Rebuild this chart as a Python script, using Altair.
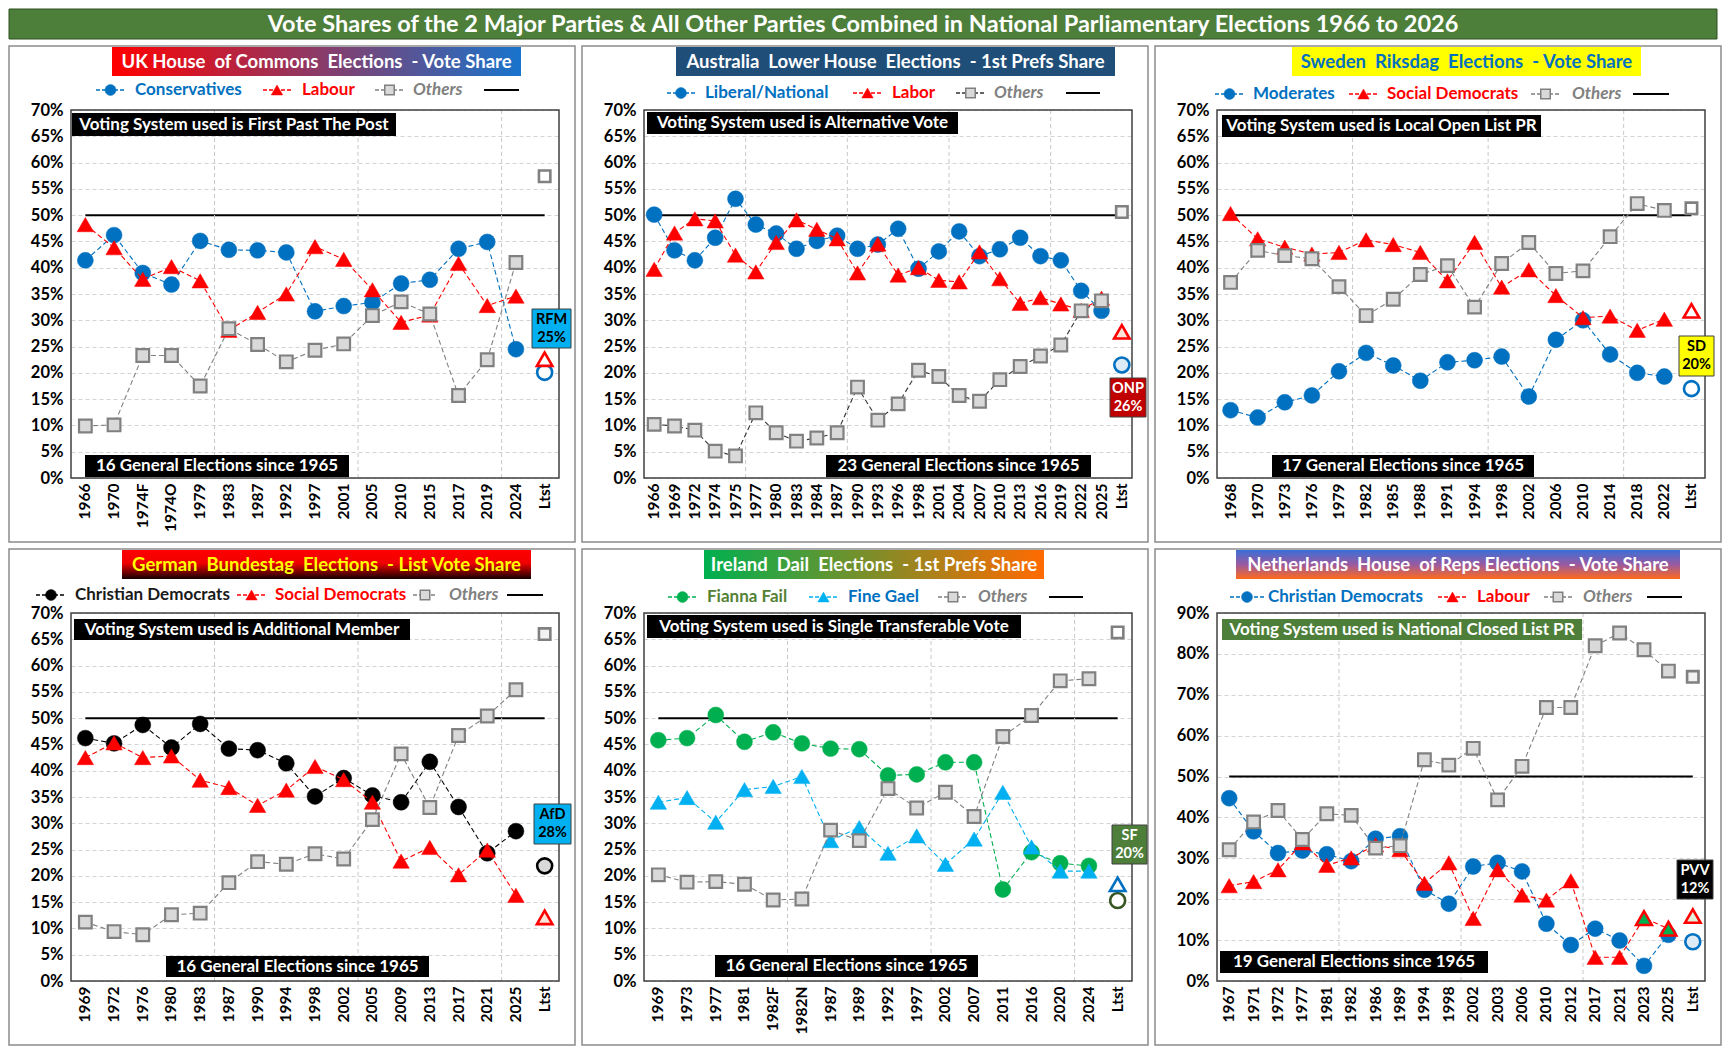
import altair as alt
import pandas as pd

FONT = "Lato"

# ---------------- data ----------------
uk_cats = ["1966", "1970", "1974F", "1974O", "1979", "1983", "1987", "1992", "1997", "2001",
           "2005", "2010", "2015", "2017", "2019", "2024", "Ltst"]
uk_con = [41.4, 46.2, 39.0, 36.8, 45.1, 43.4, 43.3, 42.9, 31.7, 32.7, 33.4, 37.0, 37.7, 43.6, 44.9, 24.5]
uk_lab = [48.2, 43.8, 37.8, 40.2, 37.5, 28.1, 31.5, 35.0, 44.0, 41.6, 35.8, 29.6, 31.0, 40.8, 32.8, 34.6]
uk_oth = [9.9, 10.1, 23.3, 23.3, 17.5, 28.4, 25.4, 22.1, 24.3, 25.5, 30.9, 33.5, 31.2, 15.7, 22.5, 41.0]
uk_latest = [20.1, 22.6, 57.4]

au_cats = ["1966", "1969", "1972", "1974", "1975", "1977", "1980", "1983", "1984", "1987", "1990",
           "1993", "1996", "1998", "2001", "2004", "2007", "2010", "2013", "2016", "2019", "2022",
           "2025", "Ltst"]
au_ln = [50.1, 43.3, 41.4, 45.7, 53.1, 48.2, 46.5, 43.6, 45.1, 46.1, 43.6, 44.4, 47.4, 39.8, 43.1,
         46.9, 42.2, 43.5, 45.7, 42.2, 41.4, 35.6, 31.8]
au_lab = [39.7, 46.6, 49.3, 48.9, 42.4, 39.2, 44.8, 49.1, 47.3, 45.5, 39.0, 44.5, 38.6, 40.0, 37.6,
          37.3, 43.0, 37.9, 33.2, 34.3, 33.1, 31.9, 34.2]
au_oth = [10.2, 9.9, 9.1, 5.1, 4.2, 12.4, 8.6, 7.0, 7.6, 8.6, 17.3, 11.0, 14.1, 20.5, 19.3, 15.7,
          14.6, 18.7, 21.2, 23.2, 25.3, 31.8, 33.7]
au_latest = [21.5, 27.8, 50.6]

se_cats = ["1968", "1970", "1973", "1976", "1979", "1982", "1985", "1988", "1991", "1994", "1998",
           "2002", "2006", "2010", "2014", "2018", "2022", "Ltst"]
se_mod = [12.9, 11.5, 14.4, 15.7, 20.3, 23.8, 21.4, 18.5, 22.0, 22.4, 23.1, 15.5, 26.3, 30.0, 23.5, 20.0, 19.3]
se_sd = [50.3, 45.5, 43.9, 42.6, 42.9, 45.3, 44.4, 42.9, 37.5, 44.8, 36.3, 39.6, 34.7, 30.5, 30.8, 28.1, 30.2]
se_oth = [37.2, 43.3, 42.3, 41.7, 36.4, 30.9, 34.0, 38.7, 40.4, 32.5, 40.8, 44.8, 38.9, 39.4, 45.9, 52.2, 50.9]
se_latest = [17.0, 31.8, 51.3]

de_cats = ["1969", "1972", "1976", "1980", "1983", "1987", "1990", "1994", "1998", "2002", "2005",
           "2009", "2013", "2017", "2021", "2025", "Ltst"]
de_cd = [46.2, 45.2, 48.7, 44.4, 48.9, 44.2, 43.9, 41.4, 35.1, 38.6, 35.3, 34.0, 41.7, 33.1, 24.3, 28.5]
de_spd = [42.5, 45.3, 42.5, 42.8, 38.2, 36.8, 33.4, 36.3, 40.8, 38.3, 34.0, 22.8, 25.4, 20.2, 24.9, 16.3]
de_oth = [11.2, 9.4, 8.8, 12.6, 12.9, 18.7, 22.7, 22.2, 24.2, 23.2, 30.7, 43.2, 33.0, 46.7, 50.4, 55.4]
de_latest = [21.9, 12.1, 66.0]

ie_cats = ["1969", "1973", "1977", "1981", "1982F", "1982N", "1987", "1989", "1992", "1997", "2002",
           "2007", "2011", "2016", "2020", "2024", "Ltst"]
ie_ff = [45.8, 46.2, 50.6, 45.5, 47.3, 45.2, 44.2, 44.1, 39.1, 39.3, 41.6, 41.6, 17.4, 24.5, 22.4, 21.9]
ie_fg = [34.0, 34.9, 30.2, 36.4, 37.0, 38.9, 26.7, 29.2, 24.3, 27.6, 22.2, 27.0, 35.9, 25.5, 20.9, 20.9]
ie_oth = [20.2, 18.8, 18.9, 18.4, 15.4, 15.6, 28.7, 26.7, 36.6, 32.9, 35.9, 31.3, 46.5, 50.5, 57.1, 57.5]
ie_latest = [15.3, 18.4, 66.3]

nl_cats = ["1967", "1971", "1972", "1977", "1981", "1982", "1986", "1989", "1994", "1998", "2002",
           "2003", "2006", "2010", "2012", "2017", "2021", "2023", "2025", "Ltst"]
nl_cd = [44.7, 36.6, 31.3, 31.9, 31.0, 29.3, 34.8, 35.4, 22.3, 18.9, 28.0, 28.9, 26.8, 14.0, 8.8,
         12.8, 9.9, 3.7, 11.3]
nl_lab = [23.3, 24.3, 27.2, 33.8, 28.3, 30.1, 33.3, 32.1, 23.9, 28.9, 15.3, 27.2, 21.0, 19.8, 24.5,
          5.8, 5.8, 15.4, 12.8]
nl_oth = [32.1, 38.9, 41.7, 34.6, 40.9, 40.5, 32.5, 33.1, 54.1, 52.8, 56.9, 44.3, 52.5, 66.9, 66.9,
          82.0, 85.1, 81.0, 75.8]
nl_latest = [9.6, 15.9, 74.4]
nl_glpvda_cats = ["2023", "2025"]   # joint GL-PvdA list (green filled triangles)

HEADER_TEXT = ("Vote Shares of the 2 Major Parties & All Other Parties Combined in "
               "National Parliamentary Elections 1966 to 2026")

# ---------------- styling / layout ----------------
W, H = 488, 368
LEFT, RIGHT, TOP, BOTTOM = 62, 16, 64, 64
HSP, VSP = 5, 5
HEADER_H = 30

BLUE = "#0070C0"
RED = "#FF0000"
GFILL = "#D9D9D9"
GLINE = "#808080"
NB = "\u00a0"

dummy = pd.DataFrame({"k": [0]})


def ser(vals, latest, shape, fill, stroke, line, label, lcolor, lfill, lstroke,
        italic=False, sw=0.5):
    size = {"circle": 255, "triangle-up": 270, "square": 160}[shape]
    if shape == "square":
        sw = 2.2
    return dict(vals=vals, latest=latest, shape=shape, fill=fill, stroke=stroke, line=line,
                label=label, lcolor=lcolor, lfill=lfill, lstroke=lstroke, italic=italic,
                size=size, sw=sw)


def grad(stops, vertical=False):
    st = [alt.GradientStop(color=c, offset=o) for o, c in stops]
    if vertical:
        return alt.LinearGradient(gradient="linear", stops=st, x1=0, x2=0, y1=0, y2=1)
    return alt.LinearGradient(gradient="linear", stops=st, x1=0, x2=1, y1=0, y2=0)


PANELS = [
    dict(cats=uk_cats, ymax=70, ystep=5,
         series=[ser(uk_con, uk_latest[0], "circle", BLUE, BLUE, BLUE, "Conservatives", BLUE, "white", BLUE),
                 ser(uk_lab, uk_latest[1], "triangle-up", RED, RED, RED, "Labour", RED, "white", RED),
                 ser(uk_oth, uk_latest[2], "square", GFILL, GLINE, GLINE, "Others", GLINE, "white", GLINE, italic=True)],
         title=(41, 450, f"UK House{NB} of Commons{NB} Elections{NB} - Vote Share",
                grad([(0, "#FF0000"), (1, "#1874CD")]), "white"),
         legend=[(25, 54, 64), (192, 220, 231), (304, 333, 342)], lline=(413, 448), ly=-20,
         vs=(1, 325, 3, 26, "Voting System used is First Past The Post", "black"),
         bot=(14, 278, 23, 1, "16 General Elections since 1965"),
         party=(-27, 12, 199, 238, "RFM", "25%", "#00B0F0", "black")),
    dict(cats=au_cats, ymax=70, ystep=5,
         series=[ser(au_ln, au_latest[0], "circle", BLUE, BLUE, BLUE, "Liberal/National", BLUE, "#DDEBF7", BLUE),
                 ser(au_lab, au_latest[1], "triangle-up", RED, RED, RED, "Labor", RED, "#FCE4D6", RED),
                 ser(au_oth, au_latest[2], "square", GFILL, GLINE, "#333333", "Others", GLINE, "#F2F2F2", GLINE, italic=True)],
         title=(32, 471, f"Australia{NB} Lower House{NB} Elections{NB} - 1st Prefs Share", "#1F4E79", "white"),
         legend=[(23, 51, 61), (209, 238, 248), (312, 341, 350)], lline=(422, 456), ly=-17,
         vs=(3, 314, 2, 24, "Voting System used is Alternative Vote", "black"),
         bot=(182, 447, 23, 1, "23 General Elections since 1965"),
         party=(-22, 14, 268, 307, "ONP", "26%", "#C00000", "white")),
    dict(cats=se_cats, ymax=70, ystep=5,
         series=[ser(se_mod, se_latest[0], "circle", BLUE, BLUE, BLUE, "Moderates", BLUE, "white", BLUE),
                 ser(se_sd, se_latest[1], "triangle-up", RED, RED, RED, "Social Democrats", RED, "white", RED),
                 ser(se_oth, se_latest[2], "square", GFILL, GLINE, GLINE, "Others", GLINE, "white", GLINE, italic=True)],
         title=(75, 424, f"Sweden{NB} Riksdag{NB} Elections{NB} - Vote Share", "#FFFF00", BLUE),
         legend=[(-2, 27, 36), (132, 161, 170), (314, 343, 355)], lline=(416, 452), ly=-16,
         vs=(5, 324, 5, 27, "Voting System used is Local Open List PR", "black"),
         bot=(55, 317, 23, 1, "17 General Elections since 1965"),
         party=(-26, 9, 226, 266, "SD", "20%", "#FFFF00", "black")),
    dict(cats=de_cats, ymax=70, ystep=5,
         series=[ser(de_cd, de_latest[0], "circle", "black", "black", "black", "Christian Democrats", "#1A1A1A", GFILL, "black"),
                 ser(de_spd, de_latest[1], "triangle-up", RED, RED, RED, "Social Democrats", RED, "#FCE4D6", RED),
                 ser(de_oth, de_latest[2], "square", GFILL, GLINE, GLINE, "Others", GLINE, "#F2F2F2", GLINE, italic=True)],
         title=(51, 460, f"German{NB} Bundestag{NB} Elections{NB} - List Vote Share",
                grad([(0, "#FF0000"), (0.45, "#F00000"), (1, "#150000")], vertical=True), "#FFFF00"),
         legend=[(-35, -5, 4), (166, 195, 204), (342, 366, 378)], lline=(436, 472), ly=-18,
         vs=(3, 339, 6, 27, "Voting System used is Additional Member", "black"),
         bot=(95, 358, 25, 4, "16 General Elections since 1965"),
         party=(-25, 12, 191, 231, "AfD", "28%", "#00B0F0", "black")),
    dict(cats=ie_cats, ymax=70, ystep=5,
         series=[ser(ie_ff, ie_latest[0], "circle", "#00B050", "#00B050", "#00B050", "Fianna Fail", "#548235", "white", "#375623"),
                 ser(ie_fg, ie_latest[1], "triangle-up", "#00B0F0", "#00B0F0", "#00B0F0", "Fine Gael", BLUE, "white", BLUE),
                 ser(ie_oth, ie_latest[2], "square", GFILL, GLINE, GLINE, "Others", GLINE, "white", GLINE, italic=True)],
         title=(60, 400, f"Ireland{NB} Dail{NB} Elections{NB} - 1st Prefs Share",
                grad([(0, "#00B050"), (1, "#FF6A00")]), "white"),
         legend=[(24, 53, 63), (165, 194, 204), (294, 324, 334)], lline=(405, 439), ly=-16,
         vs=(3, 377, 2, 25, "Voting System used is Single Transferable Vote", "black"),
         bot=(71, 334, 26, 4, "16 General Elections since 1965"),
         party=(-20, 15, 212, 251, "SF", "20%", "#4E7F3A", "white")),
    dict(cats=nl_cats, ymax=90, ystep=10,
         series=[ser(nl_cd, nl_latest[0], "circle", BLUE, BLUE, BLUE, "Christian Democrats", BLUE, "#DDEBF7", BLUE),
                 ser(nl_lab, nl_latest[1], "triangle-up", RED, RED, RED, "Labour", RED, "#E2EFDA", RED),
                 ser(nl_oth, nl_latest[2], "square", GFILL, GLINE, GLINE, "Others", GLINE, "#F2F2F2", GLINE, italic=True)],
         special=dict(series=1, cats=nl_glpvda_cats, fill="#00B050", stroke=RED),
         title=(19, 463, f"Netherlands{NB} House{NB} of Reps Elections{NB} - Vote Share",
                grad([(0, "#3A6FD8"), (0.5, "#9A5AA0"), (1, "#FF6A1A")], vertical=True), "white"),
         legend=[(13, 47, 51), (221, 250, 260), (327, 355, 366)], lline=(430, 465), ly=-16,
         vs=(5, 365, 6, 27, "Voting System used is National Closed List PR", "#4E7F3A"),
         bot=(3, 271, 30, 8, "19 General Elections since 1965"),
         party=(-28, 8, 247, 286, "PVV", "12%", "black", "white")),
]


def vrect(x0, x1, y0, y1, **kw):
    return alt.Chart(dummy).mark_rect(**kw).encode(
        x=alt.value(x0), x2=alt.value(x1), y=alt.value(y0), y2=alt.value(y1))


def vtext(x, y, text, size, color, align="center", style="normal"):
    return alt.Chart(dummy).mark_text(
        align=align, baseline="middle", font=FONT, fontSize=size, fontWeight="bold",
        color=color, fontStyle=style).encode(
        x=alt.value(x), y=alt.value(y), text=alt.value(text))


def build_panel(p):
    cats = p["cats"]
    n = len(cats)
    xs = alt.Scale(domain=cats, type="band", paddingInner=0, paddingOuter=0)
    ys = alt.Scale(domain=[0, p["ymax"]], nice=False)
    xaxis = alt.Axis(title=None, labelAngle=270, labelFont=FONT, labelFontSize=15.5,
                     labelFontWeight="bold", labelColor="black", ticks=False, domain=False,
                     grid=False, labelPadding=5, labelAlign="right", labelBaseline="middle")
    yaxis = alt.Axis(title=None, values=list(range(0, p["ymax"] + 1, p["ystep"])),
                     labelExpr="datum.value + '%'", labelFont=FONT, labelFontSize=16.5,
                     labelFontWeight="bold", labelColor="black", ticks=False, domain=False,
                     grid=True, gridColor="#D3D3D3", gridDash=[4, 3], gridWidth=1, labelPadding=8)

    def X(bp=0.5):
        return alt.X("cat:N", scale=xs, bandPosition=bp, axis=xaxis)

    def Y():
        return alt.Y("val:Q", scale=ys, axis=yaxis)

    layers = []
    # outer panel frame
    layers.append(vrect(-LEFT, W + RIGHT, -TOP, H + BOTTOM, filled=False,
                        stroke="#8C8C8C", strokeWidth=1.5))
    # 50% majority line (also carries the axes)
    half = pd.DataFrame({"cat": [cats[0], cats[-1]], "val": [50, 50]})
    layers.append(alt.Chart(half).mark_line(color="black", strokeWidth=2)
                  .encode(x=X(), y=Y()))
    # vertical gridlines every 5 categories
    gdf = pd.DataFrame({"cat": [cats[i] for i in range(5, n, 5)]})
    layers.append(alt.Chart(gdf).mark_rule(color="#C8C8C8", strokeDash=[4, 3], strokeWidth=1)
                  .encode(x=X(bp=0)))
    # plot-area border
    layers.append(vrect(0, W, 0, H, filled=False, stroke="#404040", strokeWidth=1.5))

    # series
    for s in p["series"]:
        vals = s["vals"]
        df = pd.DataFrame({"cat": cats[:len(vals)], "val": vals, "i": list(range(len(vals)))})
        layers.append(alt.Chart(df).mark_line(color=s["line"], strokeWidth=1.1, strokeDash=[5, 3])
                      .encode(x=X(), y=Y(), order="i:Q"))
        layers.append(alt.Chart(df).mark_point(shape=s["shape"], filled=True, fill=s["fill"],
                                               stroke=s["stroke"], strokeWidth=s["sw"],
                                               size=s["size"], opacity=1)
                      .encode(x=X(), y=Y()))
    if "special" in p:
        sp = p["special"]
        s = p["series"][sp["series"]]
        sdf = pd.DataFrame({"cat": sp["cats"],
                            "val": [s["vals"][cats.index(c)] for c in sp["cats"]]})
        layers.append(alt.Chart(sdf).mark_point(shape=s["shape"], filled=True, fill=sp["fill"],
                                                stroke=sp["stroke"], strokeWidth=2.5,
                                                size=s["size"] - 20, opacity=1)
                      .encode(x=X(), y=Y()))
    # latest polls (hollow markers)
    for s in p["series"]:
        ldf = pd.DataFrame({"cat": [cats[-1]], "val": [s["latest"]]})
        layers.append(alt.Chart(ldf).mark_point(shape=s["shape"], filled=True, fill=s["lfill"],
                                                stroke=s["lstroke"], strokeWidth=2.6,
                                                size=s["size"] - 30, opacity=1)
                      .encode(x=X(), y=Y()))

    # panel title
    tx0, tx1, ttext, tfill, tcol = p["title"]
    layers.append(vrect(tx0, tx1, -63, -34, fill=tfill))
    layers.append(vtext((tx0 + tx1) / 2, -48, ttext, 18.5, tcol))

    # legend
    ly = p["ly"]
    for (x0, x1, tx), s in zip(p["legend"], p["series"]):
        layers.append(alt.Chart(dummy).mark_rule(color=s["line"], strokeDash=[4, 2], strokeWidth=1.3)
                      .encode(x=alt.value(x0), x2=alt.value(x1), y=alt.value(ly)))
        lsize = {"circle": 120, "triangle-up": 130, "square": 90}[s["shape"]]
        layers.append(alt.Chart(dummy).mark_point(shape=s["shape"], filled=True, fill=s["fill"],
                                                  stroke=s["stroke"], strokeWidth=min(s["sw"], 1.5),
                                                  size=lsize, opacity=1)
                      .encode(x=alt.value((x0 + x1) / 2), y=alt.value(ly)))
        layers.append(vtext(tx, ly, s["label"], 17, s["lcolor"], align="left",
                            style="italic" if s["italic"] else "normal"))
    lx0, lx1 = p["lline"]
    layers.append(alt.Chart(dummy).mark_rule(color="black", strokeWidth=2)
                  .encode(x=alt.value(lx0), x2=alt.value(lx1), y=alt.value(ly)))

    # voting system note
    vx0, vx1, vy0, vy1, vtxt, vfill = p["vs"]
    layers.append(vrect(vx0, vx1, vy0, vy1, fill=vfill))
    layers.append(vtext((vx0 + vx1) / 2, (vy0 + vy1) / 2, vtxt, 17, "white"))

    # elections count note
    bx0, bx1, bdy0, bdy1, btxt = p["bot"]
    layers.append(vrect(bx0, bx1, H - bdy0, H - bdy1, fill="black"))
    layers.append(vtext((bx0 + bx1) / 2, H - (bdy0 + bdy1) / 2, btxt, 17, "white"))

    # latest-poll leading challenger box
    px0, px1, py0, py1, pt1, pt2, pfill, pcol = p["party"]
    pc = W + (px0 + px1) / 2
    pm = (py0 + py1) / 2
    layers.append(vrect(W + px0, W + px1, py0, py1, fill=pfill, stroke="#404040", strokeWidth=1))
    layers.append(vtext(pc, pm - 9, pt1, 14.5, pcol))
    layers.append(vtext(pc, pm + 9, pt2, 14.5, pcol))

    return alt.layer(*layers).properties(width=W, height=H)


panels = [build_panel(p) for p in PANELS]

TOTAL_W = 3 * (LEFT + W + RIGHT) + 2 * HSP
header = alt.layer(
    vrect(-LEFT, TOTAL_W - LEFT, 0, HEADER_H, fill="#4E7F3A", stroke="#2F5020", strokeWidth=1),
    vtext(TOTAL_W / 2 - LEFT, HEADER_H / 2 + 1, HEADER_TEXT, 23.5, "white"),
).properties(width=W, height=HEADER_H)

row1 = alt.hconcat(*panels[:3], spacing=HSP)
row2 = alt.hconcat(*panels[3:], spacing=HSP)

chart = (alt.vconcat(header, row1, row2, spacing=VSP)
         .properties(padding=0, background="white")
         .configure_view(strokeWidth=0))

chart.save("out.html", embed_options={"renderer": "svg", "actions": False})
